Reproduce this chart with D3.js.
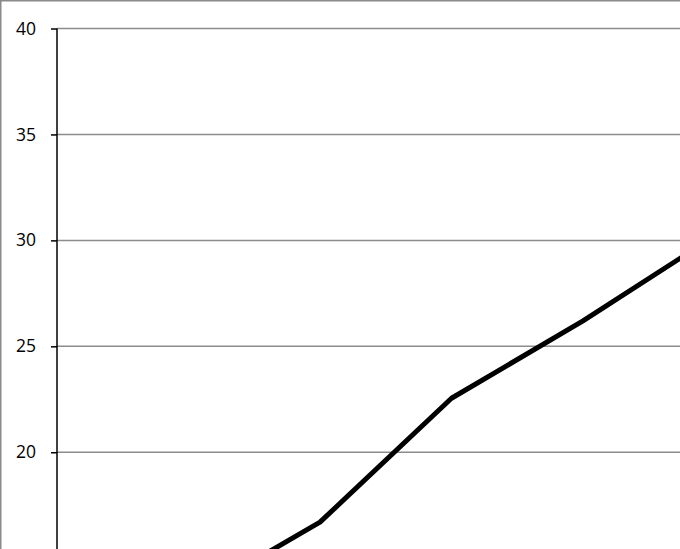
<!DOCTYPE html>
<html>
<head>
<meta charset="utf-8">
<script src="https://cdn.jsdelivr.net/npm/d3@7"></script>
<style>
  html, body { margin: 0; padding: 0; background: #fff; overflow: hidden; }
  svg { display: block; }
</style>
</head>
<body>
<svg id="chart" width="680" height="549"></svg>
<script>
// category positions (index along x) and the series values
const categories = [1, 2, 3, 4, 5]
const values = [13.1, 16.7, 22.55, 26.2, 30.2]
// only the ticks that fall inside the visible window
const yTicks = [20, 25, 30, 35, 40]

const svg = d3.select('#chart')

const xScale = d3.scaleLinear()
  .domain([0, 5])
  .range([57, 714.5])

const yScale = d3.scaleLinear()
  .domain([0, 40])
  .range([876, 28.5])

// outer frame of the chart area (only top and left are in view)
svg.append('rect')
  .attr('x', 0.75)
  .attr('y', 0.75)
  .attr('width', 1000)
  .attr('height', 1000)
  .attr('fill', 'none')
  .attr('stroke', '#8a8a8a')
  .attr('stroke-width', 1.5)

// gridlines
svg.append('g')
  .selectAll('line')
  .data(yTicks)
  .enter()
  .append('line')
  .attr('x1', xScale(0))
  .attr('x2', 680)
  .attr('y1', d => yScale(d))
  .attr('y2', d => yScale(d))
  .attr('stroke', '#8c8c8c')
  .attr('stroke-width', 1.5)

// y axis
const axis = d3.axisLeft(yScale)
  .tickValues(yTicks)
  .tickSize(6)
  .tickPadding(15)
  .tickFormat(d3.format('d'))

const gAxis = svg.append('g')
  .attr('transform', `translate(${xScale(0)},0)`)
  .call(axis)

gAxis.select('.domain')
  .attr('d', `M0,${yScale(40)}V${yScale(0)}`)
  .attr('stroke', '#000')
  .attr('stroke-width', 1.5)
gAxis.selectAll('.tick line')
  .attr('stroke', '#000')
  .attr('stroke-width', 1.5)
gAxis.selectAll('.tick text')
  .attr('fill', '#000')
  .style('font-family', '"Open Sans", sans-serif')
  .style('font-size', '17.5px')

// series line
const line = d3.line()
  .x((d, i) => xScale(categories[i]))
  .y(d => yScale(d))

svg.append('path')
  .datum(values)
  .attr('d', line)
  .attr('fill', 'none')
  .attr('stroke', '#000')
  .attr('stroke-width', 5)
  .attr('stroke-linejoin', 'round')
</script>
</body>
</html>
